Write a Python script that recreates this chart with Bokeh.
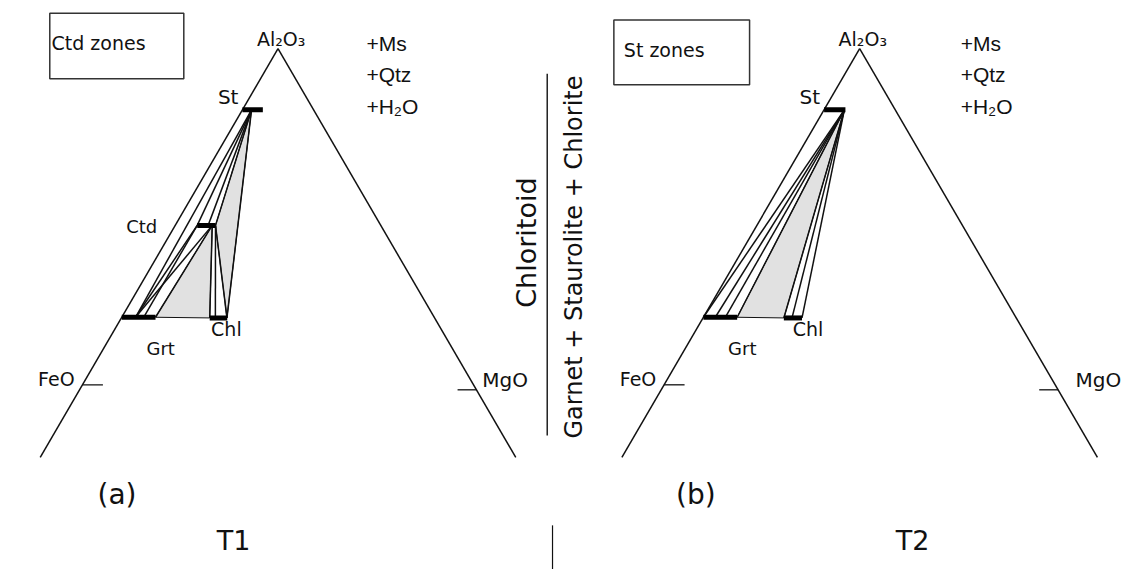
import numpy as np
from bokeh.plotting import figure
from bokeh.models import Range1d
from bokeh.embed import file_html
from bokeh.resources import INLINE
from bokeh.core.properties import value

# ---------------- data (AFM projection: A = Al2O3 fraction, XMg = Mg/(Fe+Mg)) -------------
# T1 : chloritoid zone
t1_phase = ["St", "Ctd", "Grt", "Chl"]
t1_A = [0.819, 0.477, 0.205, 0.203]
t1_xmg_min = [0.000, 0.107, 0.000, 0.282]
t1_xmg_max = [0.287, 0.196, 0.108, 0.338]
t1_tie_from = ["St", "St", "St", "St", "St", "Ctd", "Ctd", "Ctd", "Ctd", "Ctd", "Ctd", "Ctd"]
t1_tie_from_x = [0.128, 0.128, 0.128, 0.128, 0.128, 0.107, 0.107, 0.180, 0.180, 0.180, 0.196, 0.196]
t1_tie_to = ["Grt", "Ctd", "Ctd", "Ctd", "Chl", "Grt", "Grt", "Grt", "Grt", "Chl", "Chl", "Chl"]
t1_tie_to_x = [0.044, 0.107, 0.160, 0.196, 0.337, 0.044, 0.070, 0.044, 0.108, 0.282, 0.300, 0.337]
t1_field_phases = [["St", "Ctd", "Chl"], ["Grt", "Ctd", "Chl"]]
t1_field_x = [[0.128, 0.196, 0.337], [0.108, 0.180, 0.282]]

# T2 : staurolite zone
t2_phase = ["St", "Grt", "Chl"]
t2_A = [0.819, 0.205, 0.203]
t2_xmg_min = [0.000, 0.000, 0.258]
t2_xmg_max = [0.300, 0.108, 0.316]
t2_tie_from = ["St"] * 7
t2_tie_from_x = [0.285] * 7
t2_tie_to = ["Grt", "Grt", "Grt", "Grt", "Chl", "Chl", "Chl"]
t2_tie_to_x = [0.000, 0.038, 0.070, 0.108, 0.258, 0.284, 0.316]
t2_field_phases = [["St", "Grt", "Chl"]]
t2_field_x = [[0.285, 0.108, 0.258]]

zone_labels = ["Ctd zones", "St zones"]
panel_tags = ["(a)", "(b)"]
temperatures = ["T1", "T2"]
extra_phases = ["+Ms", "+Qtz", "+H\u2082O"]
apex_label = "Al\u2082O\u2083"
base_labels = ["FeO", "MgO"]
reaction_top = "Chloritoid"
reaction_bottom = "Garnet + Staurolite + Chlorite"

# ---------------- geometry helpers ----------------
H = np.sqrt(3) / 2.0
DX = [0.0, 1.48]          # horizontal offset of each panel
A_LOW = -0.21             # projected lines run below the FeO-MgO join


def tern(a, m, dx=0.0):
    a = np.asarray(a, float)
    m = np.asarray(m, float)
    return dx + 0.5 * a + (1.0 - a) * m, a * H


p = figure(width=1124, height=569, output_backend="svg", toolbar_location=None,
           x_range=Range1d(-0.2061, 2.6539), y_range=Range1d(-0.4692, 0.9897),
           x_axis_location=None, y_axis_location=None, min_border=0)
p.grid.visible = False
p.outline_line_color = None
p.background_fill_color = "white"
p.border_fill_color = "white"

FONT = value("DejaVu Sans")
FONT2 = value("Liberation Sans")
INK = "#111111"
GREY = "#e1e1e1"

panels = [
    (t1_phase, t1_A, t1_xmg_min, t1_xmg_max, t1_tie_from, t1_tie_from_x, t1_tie_to,
     t1_tie_to_x, t1_field_phases, t1_field_x),
    (t2_phase, t2_A, t2_xmg_min, t2_xmg_max, t2_tie_from, t2_tie_from_x, t2_tie_to,
     t2_tie_to_x, t2_field_phases, t2_field_x),
]

for k, (ph, A, xmin, xmax, tf, tfx, tt, ttx, fph, fx) in enumerate(panels):
    dx = DX[k]
    Aof = dict(zip(ph, A))
    # three-phase fields
    xs, ys = [], []
    for names, mm in zip(fph, fx):
        x, y = tern([Aof[n] for n in names], mm, dx)
        xs.append(list(x)); ys.append(list(y))
    p.patches(xs, ys, fill_color=GREY, line_color=INK, line_width=1.0)
    # tie lines
    x0, y0 = tern([Aof[n] for n in tf], tfx, dx)
    x1, y1 = tern([Aof[n] for n in tt], ttx, dx)
    p.segment(x0, y0, x1, y1, line_color=INK, line_width=1.5)
    # triangle sides (projected)
    ax, ay = tern(1.0, 0.0, dx)
    lx, ly = tern(A_LOW, 0.0, dx)
    rx, ry = tern(A_LOW, 1.0, dx)
    p.segment([ax, ax], [ay, ay], [lx, rx], [ly, ry], line_color=INK, line_width=1.5)
    # FeO / MgO ticks
    fx0, fy0 = tern(0.005, 0.0, dx)
    mx0, my0 = tern(-0.0098, 1.0, dx)
    p.segment([fx0, mx0], [fy0, my0], [fx0 + 0.052, mx0 - 0.048], [fy0, my0],
              line_color=INK, line_width=1.3)
    # composition bars
    bx0, by0 = tern(A, xmin, dx)
    bx1, by1 = tern(A, xmax, dx)
    p.segment(bx0, by0, bx1, by1, line_color="black", line_width=5)

    # labels
    txt = dict(text_font=FONT, text_color=INK)
    p.text([ax + 0.008], [ay], text=[apex_label], text_font=FONT, text_font_size="19px",
           text_align="center", text_baseline="alphabetic", y_offset=-10, text_color=INK)
    stx, sty = tern(Aof["St"], 0.0, dx)
    p.text([stx], [sty], text=["St"], text_font_size="20px", text_align="right",
           text_baseline="middle", x_offset=-4, y_offset=-13, **txt)
    if "Ctd" in Aof:
        p.text([dx + 0.1926], [0.410], text=["Ctd"], text_font_size="18px",
               text_align="right", text_baseline="middle", **txt)
    p.text([dx + 0.2014], [0.0974], text=["Grt"], text_font_size="18px",
           text_align="center", text_baseline="middle", **txt)
    p.text([dx + 0.3687], [0.148], text=["Chl"], text_font_size="19px",
           text_align="center", text_baseline="middle", **txt)
    p.text([dx - 0.0175], [0.0195], text=[base_labels[0]], text_font_size="19px",
           text_align="right", text_baseline="middle", **txt)
    p.text([dx + [1.0196, 1.0494][k]], [0.0172], text=[base_labels[1]], text_font_size="20px",
           text_align="left", text_baseline="middle", **txt)
    p.text([dx + 0.725 + 0.032 * k] * 3, [0.880, 0.800, 0.718], text=extra_phases,
           text_font=FONT2, text_font_size="21px", text_align="left",
           text_baseline="middle", text_color=INK)
    p.text([dx + [0.0903, 0.0832][k]], [-0.2769], text=[panel_tags[k]], text_font_size="28px",
           text_align="center", text_baseline="middle", **txt)
    p.text([dx + [0.3868, 0.6346][k]], [-0.3949], text=[temperatures[k]], text_font_size="27px",
           text_align="center", text_baseline="middle", **txt)
    # zone box
    bl, br = [(-0.0807, 0.2603), (-0.1254, 0.2199)][k]
    bb, bt = [(0.789, 0.957), (0.7736, 0.940)][k]
    p.quad(left=[dx + bl], right=[dx + br], bottom=[bb], top=[bt], fill_color=None,
           line_color="#333333", line_width=1.5)
    p.text([dx + [-0.0763, -0.100][k]], [[0.881, 0.864][k]], text=[zone_labels[k]],
           text_font_size="19px", text_align="left", text_baseline="middle", **txt)

# reaction divider
p.segment([1.185], [0.8018], [1.185], [-0.1256], line_color=INK, line_width=1.4)
p.text([1.133], [0.369], text=[reaction_top], angle=np.pi / 2, text_font=FONT,
       text_font_size="27px", text_align="center", text_baseline="middle", text_color=INK)
p.text([1.252], [0.332], text=[reaction_bottom], angle=np.pi / 2, text_font=FONT,
       text_font_size="24px", text_align="center", text_baseline="middle", text_color=INK)
# divider between the two temperature labels
p.segment([1.1985], [-0.356], [1.1985], [-0.4692], line_color=INK, line_width=1.2)

open("out.html", "w").write(file_html(p, INLINE))
